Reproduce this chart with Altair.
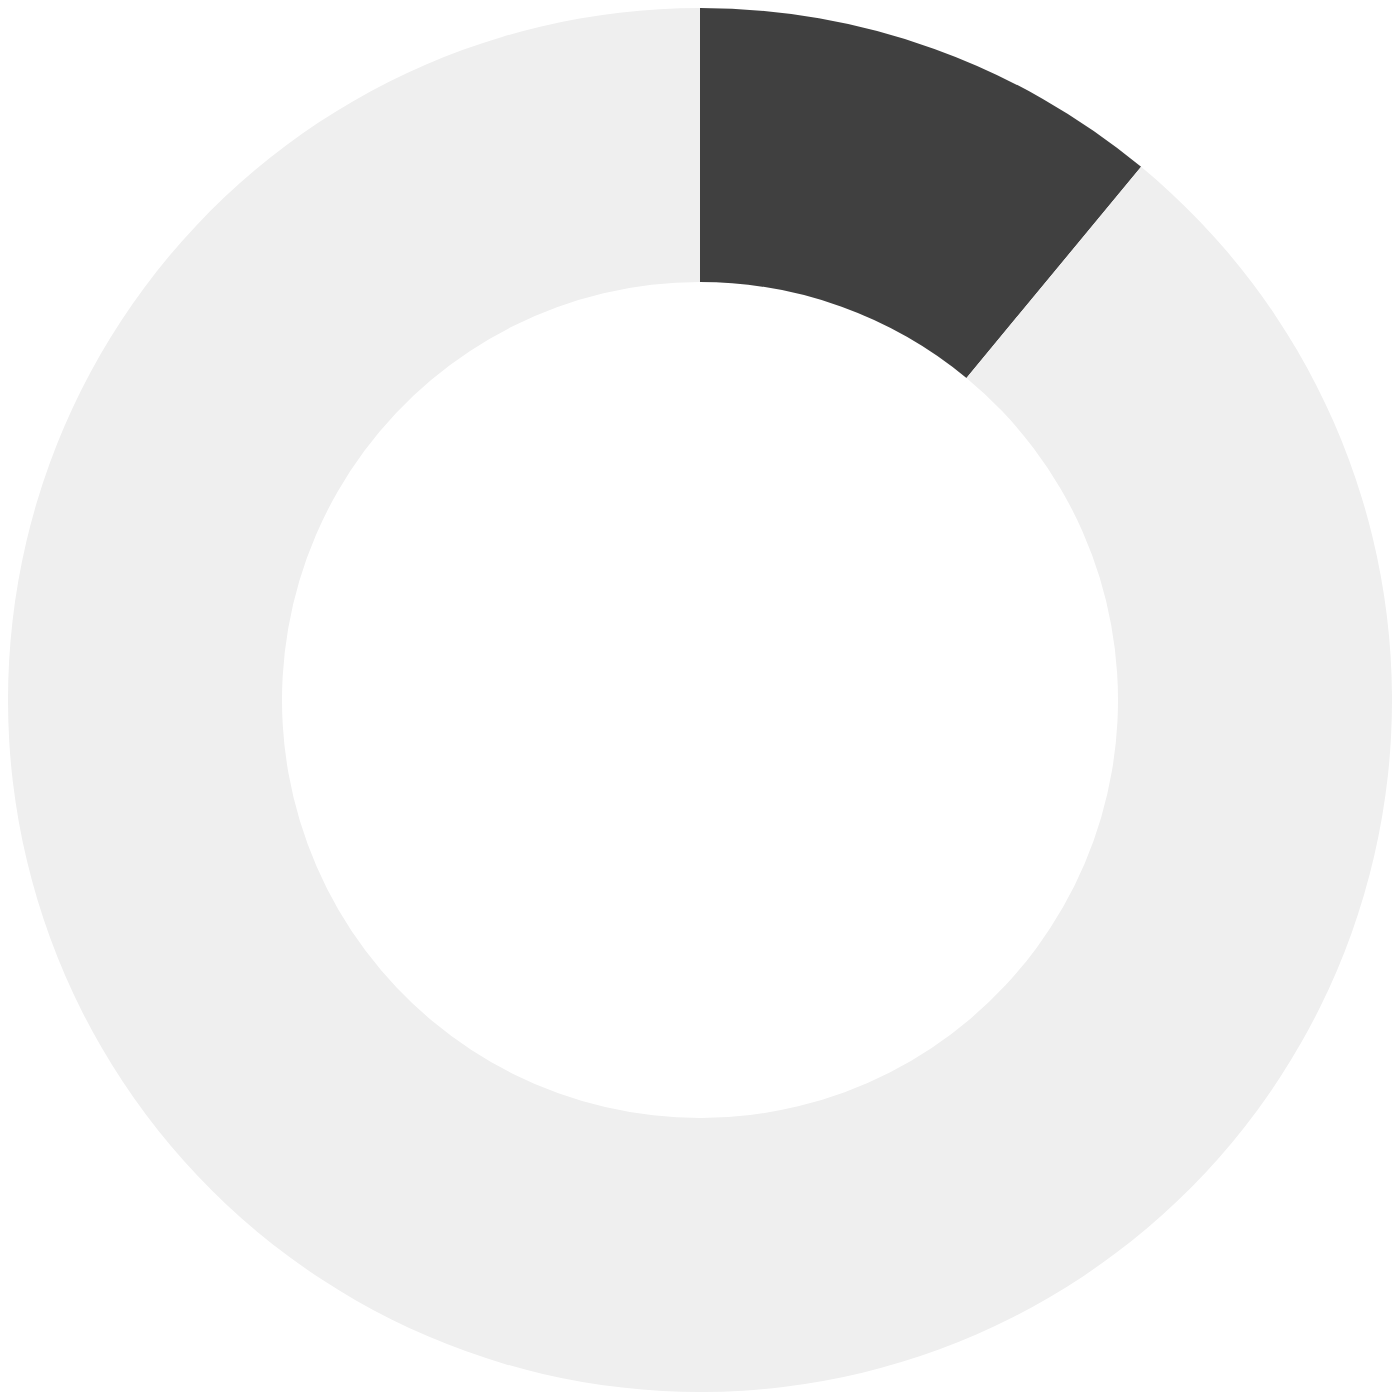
import altair as alt
import pandas as pd

categories = ["Value", "Remainder"]
values = [11, 89]
colors = ["#404040", "#efefef"]

df = pd.DataFrame({"category": categories, "value": values, "order": [0, 1]})

chart = alt.Chart(df).mark_arc(outerRadius=692, innerRadius=418).encode(
    theta=alt.Theta("value:Q", stack=True),
    order=alt.Order("order:Q"),
    color=alt.Color("category:N", scale=alt.Scale(domain=categories, range=colors), legend=None),
).properties(
    width=1384, height=1384, padding=0
).configure_view(stroke=None)

chart.save("out.html", embed_options={"renderer": "svg", "actions": False})
